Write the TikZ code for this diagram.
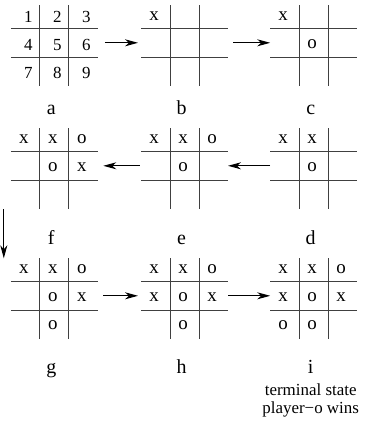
\documentclass[tikz,border=0pt]{standalone}
\usepackage{fontspec}
\setmainfont{Liberation Serif}
\usetikzlibrary{arrows.meta,positioning,calc}

\begin{document}
\begin{tikzpicture}[x=1bp,y=-1bp,>={Stealth[length=13bp,width=7bp,inset=4bp]},
board/.style={minimum width=87bp,minimum height=87bp,inner sep=0pt,outer sep=0pt},
gridline/.style={draw=black!75,line width=1bp},
entry/.style={font=\fontsize{19}{21}\selectfont,inner sep=0pt},
digit/.style={font=\fontsize{17}{19}\selectfont,inner sep=0pt},
lbl/.style={font=\fontsize{20}{22}\selectfont,anchor=base,inner sep=0pt},
note/.style={font=\fontsize{17}{18}\selectfont,anchor=base,align=center,inner sep=0pt},
move/.style={->,line width=1bp}]
\useasboundingbox (0,0) rectangle (367,421);
% boards
\foreach \n/\x/\y in {a/54.3/42.8,b/184.5/42.8,c/313.7/42.8,
  f/54.3/165.8,e/184.5/165.8,d/313.7/165.8,
  g/54.3/295.8,h/184.5/295.8,i/313.7/295.8}{
  \node[board] (\n) at (\x,\y) {};
  \draw[gridline] ($(\n)+(-43.5,-14.5)$) -- ++(87,0) ($(\n)+(-43.5,14.5)$) -- ++(87,0);
  \draw[gridline] ($(\n)+(-14.5,-37.5)$) -- ++(0,81) ($(\n)+(14.5,-37.5)$) -- ++(0,81);
}
% cell numbers
\foreach \k [evaluate=\k as \cx using {mod(\k-1,3)*29-26},
  evaluate=\k as \cy using {int((\k-1)/3)*27.75-25.5}] in {1,...,9}
  \node[digit] (a\k) at ($(a)+(\cx,\cy)$) {\k};
% moves
\foreach \n/\k/\t [evaluate=\k as \cx using {mod(\k-1,3)*29-30.5},
  evaluate=\k as \cy using {int((\k-1)/3)*27.75-26.5}] in {b/1/x,
  c/1/x,c/5/o,
  d/1/x,d/2/x,d/5/o,
  e/1/x,e/2/x,e/3/o,e/5/o,
  f/1/x,f/2/x,f/3/o,f/5/o,f/6/x,
  g/1/x,g/2/x,g/3/o,g/5/o,g/6/x,g/8/o,
  h/1/x,h/2/x,h/3/o,h/4/x,h/5/o,h/6/x,h/8/o,
  i/1/x,i/2/x,i/3/o,i/4/x,i/5/o,i/6/x,i/7/o,i/8/o}
  \node[entry] (\n\k) at ($(\n)+(\cx,\cy)$) {\t};
% captions
\foreach \n/\dy in {a/72,b/72,c/72,d/79,e/79,f/79,g/77.5,h/77.5,i/77.5}
  \node[lbl] (l\n) at ($(\n)+(-3,\dy)$) {\n};
\node[note] (tstate) at ($(li.base)+(0,40)$) {terminal state\\player−o wins};

\draw[move,shorten <=7bp,shorten >=3bp] (a) -- (b);
\draw[move,shorten <=5bp] (b) -- (c);
\draw[move] (d) -- (e);
\draw[move,shorten <=1bp,shorten >=5.5bp] (e) -- (f);
\draw[move] ([xshift=-7bp]f.south west) -- ([xshift=-7bp,yshift=-6bp]g.north west);
\draw[move,shorten <=5.5bp,shorten >=3bp] (g) -- (h);
\draw[move] (h) -- (i);
\end{tikzpicture}
\end{document}
